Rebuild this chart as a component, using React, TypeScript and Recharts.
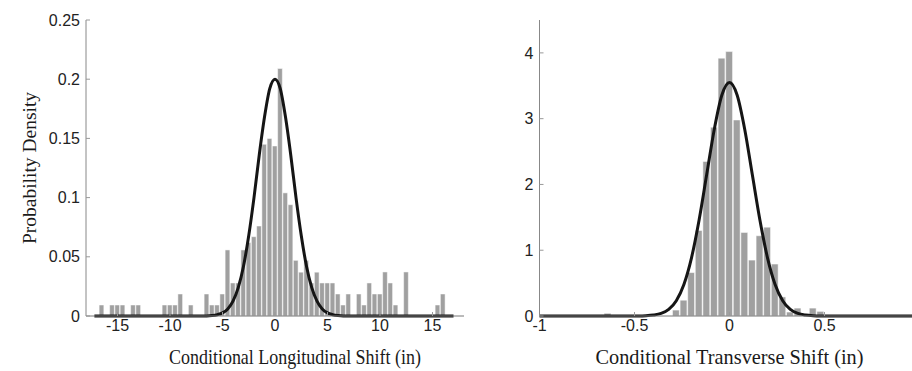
import { ComposedChart, Bar, Line, XAxis, YAxis } from "recharts";

// left panel: conditional longitudinal shift (in), bins 0.5 wide
const longBinX = [
  -16.5, -15.5, -15, -14.5, -13.5, -13, -10.5, -10, -9.5, -9, -8, -6.5, -6, -5.5, -5,
  -4.5, -4, -3.5, -3, -2.5, -2, -1.5, -1, -0.5, 0, 0.5, 1, 1.5, 2, 2.5, 3, 3.5, 4,
  4.5, 5, 5.5, 6, 6.5, 7, 8, 8.5, 9, 9.5, 10, 10.5, 11, 11.5, 12.5, 15.5, 16,
];
const longBinDensity = [
  0.0093, 0.0093, 0.0093, 0.0093, 0.0093, 0.0093, 0.0093, 0.0093, 0.0093, 0.0186, 0.0093,
  0.0186, 0.0093, 0.0093, 0.0186, 0.0558, 0.0279, 0.0279, 0.0558, 0.062, 0.067, 0.076,
  0.145, 0.15, 0.1436, 0.209, 0.104, 0.094, 0.047, 0.037, 0.047, 0.0279, 0.037, 0.0279,
  0.0279, 0.0279, 0.0186, 0.0093, 0.0186, 0.0186, 0.0093, 0.0279, 0.0186, 0.0186, 0.0372,
  0.0279, 0.0093, 0.0372, 0.0093, 0.0186,
];
const longFitX = [
  -17.2, -12, -8, -6.5, -6, -5.5, -5, -4.5, -4, -3.5, -3, -2.5, -2, -1.5, -1, -0.5, 0,
  0.5, 1, 1.5, 2, 2.5, 3, 3.5, 4, 4.5, 5, 5.5, 6, 6.5, 8, 12, 17,
];
const longFitDensity = [
  0, 0, 0, 0.0001, 0.0004, 0.0011, 0.0026, 0.006, 0.0126, 0.024, 0.042, 0.068, 0.1, 0.136,
  0.168, 0.192, 0.2, 0.192, 0.168, 0.136, 0.1, 0.068, 0.042, 0.024, 0.0126, 0.006, 0.0026,
  0.0011, 0.0004, 0.0001, 0, 0, 0,
];
const longTicksX = [-15, -10, -5, 0, 5, 10, 15];
const longTicksY = [0, 0.05, 0.1, 0.15, 0.2, 0.25];

// right panel: conditional transverse shift (in), bins 0.04 wide
const transBinX = [
  -0.64, -0.28, -0.24, -0.2, -0.16, -0.12, -0.08, -0.04, 0, 0.04, 0.08, 0.12, 0.16, 0.2,
  0.24, 0.28, 0.32, 0.36, 0.44, 0.48,
];
const transBinDensity = [
  0.04, 0.09, 0.24, 0.66, 1.3, 2.35, 2.87, 3.92, 4.02, 2.98, 1.27, 0.85, 1.22, 1.35, 0.79,
  0.29, 0.06, 0.12, 0.12, 0.07,
];
const transFitX = [
  -1, -0.6, -0.48, -0.44, -0.4, -0.36, -0.32, -0.28, -0.24, -0.2, -0.16, -0.12, -0.08,
  -0.04, 0, 0.04, 0.08, 0.12, 0.16, 0.2, 0.24, 0.28, 0.32, 0.36, 0.4, 0.44, 0.48, 0.6, 1,
];
const transFitDensity = [
  0, 0, 0.001, 0.004, 0.014, 0.039, 0.1, 0.233, 0.48, 0.885, 1.46, 2.15, 2.84, 3.36, 3.55,
  3.36, 2.84, 2.15, 1.46, 0.885, 0.48, 0.233, 0.1, 0.039, 0.014, 0.004, 0.001, 0, 0,
];
// the 1 tick falls past the cropped right edge of the figure
const transTicksX = [-1, -0.5, 0, 0.5];
const transTicksY = [0, 1, 2, 3, 4];

function merge(binX: number[], binY: number[], fitX: number[], fitY: number[]) {
  const rows = new Map<number, any>();
  binX.forEach((x, i) => rows.set(x, { x, bar: binY[i] }));
  fitX.forEach((x, i) => rows.set(x, { ...(rows.get(x) || { x }), fit: fitY[i] }));
  return [...rows.values()].sort((a, b) => a.x - b.x);
}

const tickFont = { fill: "#222", fontSize: 16, fontFamily: "'Liberation Sans Narrow', 'Liberation Sans', Arial, sans-serif" };
const serif = "'Liberation Serif', 'Times New Roman', serif";

function Panel(props: any) {
  const { data, xDomain, yDomain, xTicks, yTicks, left, width, margin, yAxisWidth, barSize, title, titleDx, titleLength } = props;
  return (
    <div style={{ position: "absolute", left, top: 0 }}>
      <ComposedChart width={width} height={371} data={data} margin={margin}>
        <XAxis
          xAxisId="b"
          dataKey="x"
          type="number"
          domain={xDomain}
          ticks={xTicks}
          interval={0}
          height={55}
          tickSize={-4}
          tickMargin={8}
          axisLine={{ stroke: "#777" }}
          tickLine={{ stroke: "#999" }}
          tick={tickFont}
          label={{
            value: title,
            position: "insideBottom",
            offset: 7,
            dx: titleDx,
            textLength: titleLength,
            lengthAdjust: "spacingAndGlyphs",
            style: { fill: "#1a1a1a", fontSize: 21, fontFamily: serif },
          }}
        />
        <XAxis
          xAxisId="t"
          orientation="top"
          dataKey="x"
          type="number"
          domain={xDomain}
          ticks={xTicks}
          interval={0}
          height={0}
          tickSize={-4}
          tick={false}
          axisLine={{ stroke: "#555" }}
          tickLine={{ stroke: "#999" }}
        />
        <YAxis
          yAxisId="l"
          type="number"
          domain={yDomain}
          ticks={yTicks}
          interval={0}
          width={yAxisWidth}
          tickSize={-4}
          tickMargin={10}
          axisLine={{ stroke: "#888" }}
          tickLine={{ stroke: "#999" }}
          tick={tickFont}
        />
        <YAxis
          yAxisId="r"
          orientation="right"
          type="number"
          domain={yDomain}
          ticks={yTicks}
          interval={0}
          width={0}
          tickSize={-4}
          tick={false}
          axisLine={{ stroke: "#555" }}
          tickLine={{ stroke: "#999" }}
        />
        <Bar
          xAxisId="b"
          yAxisId="l"
          dataKey="bar"
          fill="#a0a0a0"
          stroke="#ffffff"
          strokeWidth={0.5}
          barSize={barSize}
          isAnimationActive={false}
        />
        <Line
          xAxisId="b"
          yAxisId="l"
          dataKey="fit"
          type="monotone"
          stroke="#151515"
          strokeWidth={3}
          dot={false}
          connectNulls
          isAnimationActive={false}
        />
      </ComposedChart>
    </div>
  );
}

export default function App() {
  const longData = merge(longBinX, longBinDensity, longFitX, longFitDensity);
  const transData = merge(transBinX, transBinDensity, transFitX, transFitDensity);
  return (
    <div
      style={{
        position: "fixed",
        left: 0,
        top: 0,
        width: 912,
        height: 371,
        overflow: "hidden",
        background: "#fff",
      }}
    >
      <div
        style={{
          position: "absolute",
          left: 30,
          top: 168,
          transform: "translate(-50%, -50%) rotate(-90deg)",
          whiteSpace: "nowrap",
          fontFamily: serif,
          fontSize: 19.5,
          color: "#1a1a1a",
        }}
      >
        Probability Density
      </div>
      <Panel
        data={longData}
        xDomain={[-18, 18]}
        yDomain={[0, 0.25]}
        xTicks={longTicksX}
        yTicks={longTicksY}
        left={0}
        width={480}
        margin={{ top: 20, right: 16, bottom: 0, left: 40 }}
        yAxisWidth={46}
        barSize={5.25}
        title="Conditional Longitudinal Shift (in)"
        titleDx={20}
        titleLength={252}
      />
      <Panel
        data={transData}
        xDomain={[-1, 1]}
        yDomain={[0, 4.5]}
        xTicks={transTicksX}
        yTicks={transTicksY}
        left={490}
        width={440}
        margin={{ top: 20, right: 10.5, bottom: 0, left: 19.5 }}
        yAxisWidth={30}
        barSize={7.6}
        title="Conditional Transverse Shift (in)"
        titleDx={0}
        titleLength={268}
      />
    </div>
  );
}
